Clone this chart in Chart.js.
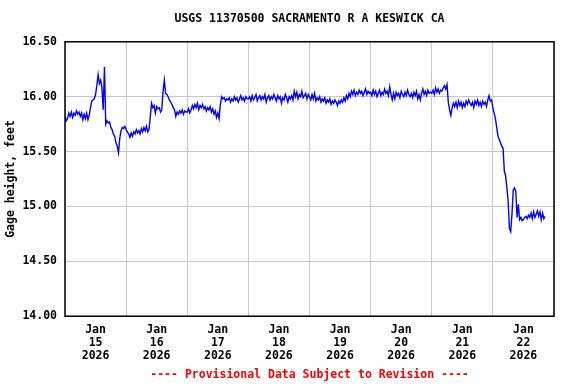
<!DOCTYPE html>
<html>
<head>
<meta charset="utf-8">
<script src="https://cdn.jsdelivr.net/npm/chart.js@4"></script>
<style>
  html, body { margin: 0; padding: 0; background: #fff; }
  #wrap { width: 576px; height: 384px; }
</style>
</head>
<body>
<div id="wrap"><canvas id="myChart" width="576" height="384"></canvas></div>
<script>
// gage height, feet, every 30 minutes starting Jan 15 2026 00:00
const jan15 = [15.82, 15.78, 15.80, 15.85, 15.82, 15.86, 15.81, 15.85, 15.83, 15.87,
  15.84, 15.86, 15.82, 15.85, 15.79, 15.84, 15.80, 15.85, 15.79, 15.83,
  15.90, 15.96, 15.97, 15.98, 16.02, 16.10, 16.20, 16.12, 16.15, 16.08,
  15.88, 16.27, 15.75, 15.78, 15.76, 15.77, 15.72, 15.70, 15.66, 15.64,
  15.58, 15.55, 15.49, 15.62, 15.69, 15.72, 15.71, 15.73];
const jan16 = [15.70, 15.68, 15.66, 15.63, 15.67, 15.64, 15.68, 15.66, 15.70, 15.67,
  15.69, 15.66, 15.71, 15.68, 15.72, 15.69, 15.73, 15.68, 15.70, 15.82,
  15.94, 15.90, 15.92, 15.85, 15.91, 15.89, 15.90, 15.86, 15.88, 16.05,
  16.15, 16.03, 16.02, 16.00, 15.97, 15.95, 15.93, 15.90, 15.88, 15.82,
  15.86, 15.84, 15.87, 15.85, 15.88, 15.84, 15.87, 15.86];
const jan17 = [15.86, 15.89, 15.85, 15.88, 15.92, 15.89, 15.93, 15.90, 15.94, 15.88,
  15.92, 15.90, 15.93, 15.89, 15.91, 15.87, 15.90, 15.88, 15.91, 15.86,
  15.89, 15.84, 15.87, 15.81, 15.85, 15.80, 15.93, 16.00, 15.98, 15.99,
  15.96, 15.98, 15.97, 15.99, 15.95, 15.98, 15.96, 16.00, 15.97, 15.99,
  15.95, 15.98, 16.01, 15.97, 15.99, 15.96, 16.00, 15.98];
const jan18 = [15.98, 16.00, 15.96, 16.01, 15.97, 15.99, 16.02, 15.96, 15.99, 16.01,
  15.97, 16.00, 15.98, 16.02, 15.95, 15.99, 16.01, 15.97, 16.00, 15.98,
  16.02, 15.99, 15.96, 16.01, 15.98, 16.00, 15.94, 15.99, 15.97, 16.02,
  15.99, 15.95, 16.00, 15.98, 16.01, 15.97, 16.05, 16.00, 16.04, 15.98,
  16.02, 16.00, 16.05, 15.99, 16.01, 16.03, 15.98, 16.02];
const jan19 = [16.00, 15.97, 16.02, 15.98, 16.03, 15.96, 15.99, 15.97, 16.00, 15.95,
  15.98, 15.96, 15.99, 15.94, 15.97, 15.95, 15.98, 15.93, 15.96, 15.94,
  15.97, 15.95, 15.92, 15.96, 15.94, 15.97, 15.95, 15.99, 15.96, 16.01,
  15.98, 16.03, 16.00, 16.05, 16.02, 16.06, 16.01, 16.04, 16.02, 16.06,
  16.03, 16.05, 16.01, 16.04, 16.07, 16.02, 16.05, 16.03];
const jan20 = [16.04, 16.01, 16.06, 16.02, 16.05, 16.00, 16.03, 16.06, 16.01, 16.04,
  16.02, 16.07, 16.03, 16.05, 16.01, 16.09, 16.02, 15.97, 16.03, 15.98,
  16.04, 16.01, 16.03, 15.99, 16.05, 16.02, 16.00, 16.04, 16.01, 16.06,
  16.02, 16.00, 16.03, 15.99, 16.04, 16.01, 16.05, 15.98, 16.02, 15.97,
  16.03, 16.07, 16.02, 16.05, 16.01, 16.06, 16.03, 16.04];
const jan21 = [16.03, 16.06, 16.02, 16.08, 16.04, 16.07, 16.03, 16.06, 16.05, 16.08,
  16.10, 16.07, 16.11, 15.95, 15.88, 15.83, 15.90, 15.94, 15.91, 15.95,
  15.90, 15.96, 15.92, 15.95, 15.90, 15.94, 15.91, 15.96, 15.93, 15.97,
  15.94, 15.92, 15.95, 15.90, 15.96, 15.93, 15.97, 15.92, 15.95, 15.91,
  15.96, 15.93, 15.95, 15.91, 15.97, 16.01, 15.96, 15.97];
const jan22 = [15.90, 15.85, 15.80, 15.72, 15.64, 15.61, 15.58, 15.55, 15.53, 15.32,
  15.28, 15.17, 15.05, 14.80, 14.77, 14.93, 15.15, 15.17, 15.14, 14.90,
  15.02, 14.88, 14.90, 14.87, 14.88, 14.90, 14.91, 14.89, 14.92, 14.90,
  14.94, 14.89, 14.95, 14.90, 14.93, 14.96, 14.91, 14.95, 14.88, 14.94,
  14.89, 14.91];

const dayLabels = ["15", "16", "17", "18", "19", "20", "21", "22"];
const monthLabel = "Jan";
const yearLabel = "2026";
const stepHours = 0.5;

const gage = [...jan15, ...jan16, ...jan17, ...jan18, ...jan19, ...jan20, ...jan21, ...jan22];
const points = gage.map((v, i) => ({ x: i * stepHours, y: v }));

Chart.defaults.font.family = "'DejaVu Sans Mono', monospace";
Chart.defaults.font.weight = "bold";
Chart.defaults.font.size = 11.5;
Chart.defaults.color = "#000";

// box around the plot area
const frame = {
    id: "frame",
    afterDraw(chart) {
        const a = chart.chartArea;
        const ctx = chart.ctx;
        ctx.save();
        ctx.strokeStyle = "#000";
        ctx.lineWidth = 1.5;
        ctx.strokeRect(a.left, a.top, a.right - a.left, a.bottom - a.top);
        ctx.restore();
    },
};

const ctx = document.getElementById("myChart");
new Chart(ctx, {
    type: "line",
    data: {
        datasets: [
            {
                data: points,
                borderColor: "#0000ff",
                borderWidth: 1.4,
                pointRadius: 0,
                tension: 0,
            },
        ],
    },
    options: {
        responsive: false,
        animation: false,
        layout: { padding: { left: 0, right: 22, top: 0, bottom: 0 } },
        plugins: {
            legend: { display: false },
            tooltip: { enabled: false },
            title: {
                display: true,
                fullSize: false,
                text: "USGS 11370500 SACRAMENTO R A KESWICK CA",
                font: { size: 11.5, weight: "bold" },
                padding: { top: 12, bottom: 16 },
            },
            subtitle: {
                display: true,
                fullSize: false,
                position: "bottom",
                text: "---- Provisional Data Subject to Revision ----",
                color: "#ff0000",
                font: { size: 11.5, weight: "bold" },
                padding: { top: 0, bottom: 2 },
            },
        },
        scales: {
            x: {
                type: "linear",
                min: 0,
                max: 192,
                afterFit(scale) {
                    scale.height = 52;
                },
                ticks: {
                    stepSize: 12,
                    autoSkip: false,
                    maxRotation: 0,
                    padding: 7,
                    font: { size: 11.5, weight: "bold", lineHeight: 1.15 },
                    callback: (value) =>
                        value % 24 === 12
                            ? [monthLabel, dayLabels[(value - 12) / 24], yearLabel]
                            : "",
                },
                grid: {
                    drawTicks: false,
                    color: (c) =>
                        c.tick && c.tick.value % 24 === 0 ? "#c8c8c8" : "rgba(0,0,0,0)",
                },
                border: { display: false },
            },
            y: {
                min: 14,
                max: 16.5,
                afterFit(scale) {
                    scale.width = 65;
                },
                ticks: {
                    stepSize: 0.5,
                    padding: 8,
                    callback: (value) => value.toFixed(2),
                },
                grid: { drawTicks: false, color: "#c8c8c8" },
                border: { display: false },
                title: {
                    display: true,
                    text: "Gage height, feet",
                    font: { size: 11.5, weight: "bold" },
                    padding: { top: 4, bottom: 0 },
                },
            },
        },
    },
    plugins: [frame],
});
</script>
</body>
</html>
